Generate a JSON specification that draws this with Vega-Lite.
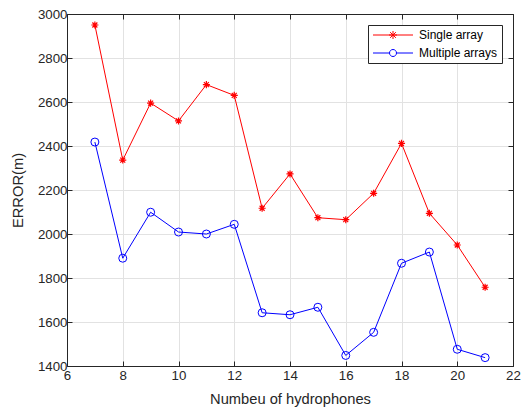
{
  "$schema": "https://vega.github.io/schema/vega-lite/v6.json",
  "width": 446,
  "height": 352,
  "autosize": {"type": "none"},
  "padding": {"left": 67, "top": 14, "right": 8, "bottom": 45},
  "background": "white",
  "config": {
    "font": "Liberation Sans",
    "view": {"stroke": "#262626", "strokeWidth": 1},
    "axis": {
      "domainColor": "#262626",
      "tickColor": "#262626",
      "labelColor": "#262626",
      "titleColor": "#262626",
      "labelFontSize": 13.3,
      "titleFontSize": 14.7,
      "titleFontWeight": "normal",
      "tickSize": -5,
      "gridColor": "#e2e2e2",
      "gridWidth": 1,
      "labelFlush": false,
      "labelOverlap": false,
      "format": "d"
    }
  },
  "data": {
    "values": [
      {"n": 7, "error": 2950, "series": "Single array"},
      {"n": 8, "error": 2336, "series": "Single array"},
      {"n": 9, "error": 2595, "series": "Single array"},
      {"n": 10, "error": 2514, "series": "Single array"},
      {"n": 11, "error": 2679, "series": "Single array"},
      {"n": 12, "error": 2630, "series": "Single array"},
      {"n": 13, "error": 2117, "series": "Single array"},
      {"n": 14, "error": 2273, "series": "Single array"},
      {"n": 15, "error": 2074, "series": "Single array"},
      {"n": 16, "error": 2065, "series": "Single array"},
      {"n": 17, "error": 2185, "series": "Single array"},
      {"n": 18, "error": 2412, "series": "Single array"},
      {"n": 19, "error": 2094, "series": "Single array"},
      {"n": 20, "error": 1950, "series": "Single array"},
      {"n": 21, "error": 1758, "series": "Single array"},
      {"n": 7, "error": 2418, "series": "Multiple arrays"},
      {"n": 8, "error": 1890, "series": "Multiple arrays"},
      {"n": 9, "error": 2099, "series": "Multiple arrays"},
      {"n": 10, "error": 2009, "series": "Multiple arrays"},
      {"n": 11, "error": 2000, "series": "Multiple arrays"},
      {"n": 12, "error": 2044, "series": "Multiple arrays"},
      {"n": 13, "error": 1642, "series": "Multiple arrays"},
      {"n": 14, "error": 1633, "series": "Multiple arrays"},
      {"n": 15, "error": 1667, "series": "Multiple arrays"},
      {"n": 16, "error": 1448, "series": "Multiple arrays"},
      {"n": 17, "error": 1553, "series": "Multiple arrays"},
      {"n": 18, "error": 1867, "series": "Multiple arrays"},
      {"n": 19, "error": 1918, "series": "Multiple arrays"},
      {"n": 20, "error": 1476, "series": "Multiple arrays"},
      {"n": 21, "error": 1438, "series": "Multiple arrays"}
    ]
  },
  "resolve": {"axis": {"x": "independent", "y": "independent"}},
  "layer": [
    {
      "mark": {"type": "line", "strokeWidth": 1, "clip": true},
      "encoding": {
        "x": {
          "field": "n", "type": "quantitative",
          "scale": {"domain": [6, 22], "nice": false, "zero": false},
          "axis": {"orient": "bottom", "values": [6, 8, 10, 12, 14, 16, 18, 20, 22], "title": "Numbeu of hydrophones", "grid": true, "labelPadding": 7, "titlePadding": 10}
        },
        "y": {
          "field": "error", "type": "quantitative",
          "scale": {"domain": [1400, 3000], "nice": false, "zero": false},
          "axis": {"orient": "left", "values": [1400, 1600, 1800, 2000, 2200, 2400, 2600, 2800, 3000], "title": "ERROR(m)", "grid": true, "labelPadding": 5, "titlePadding": 12}
        },
        "color": {
          "field": "series", "type": "nominal",
          "scale": {"domain": ["Single array", "Multiple arrays"], "range": ["#ff0000", "#0000ff"]},
          "legend": {
            "orient": "none",
            "legendX": 301,
            "legendY": 11,
            "title": null,
            "strokeColor": "#262626",
            "fillColor": "white",
            "padding": 4,
            "labelFontSize": 12,
            "labelColor": "#000000",
            "symbolSize": 100,
            "symbolOffset": 15,
            "labelOffset": 20,
            "rowPadding": 6,
            "encode": {
              "symbols": {
                "update": {
                  "shape": {"signal": "datum.value == 'Single array' ? 'M-4,0H4M-0.8,0H0.8M0,-0.8V0.8M-0.57,-0.57L0.57,0.57M-0.57,0.57L0.57,-0.57' : 'M-4,0H-0.7M0.7,0H4M-0.7,0A0.7,0.7 0 1,1 0.7,0A0.7,0.7 0 1,1 -0.7,0'"},
                  "stroke": {"signal": "datum.value == 'Single array' ? '#ff0000' : '#0000ff'"},
                  "fill": {"value": "transparent"},
                  "strokeWidth": {"value": 1},
                  "opacity": {"value": 1}
                }
              }
            }
          }
        }
      }
    },
    {
      "transform": [{"filter": "datum.series == 'Single array'"}],
      "mark": {"type": "point", "filled": false, "strokeWidth": 1.2, "size": 50, "opacity": 1, "shape": "M-1,0H1M0,-1V1M-0.7,-0.7L0.7,0.7M-0.7,0.7L0.7,-0.7"},
      "encoding": {
        "x": {
          "field": "n", "type": "quantitative",
          "axis": {"orient": "top", "values": [6, 8, 10, 12, 14, 16, 18, 20, 22], "labels": false, "title": null, "grid": false}
        },
        "y": {
          "field": "error", "type": "quantitative",
          "axis": {"orient": "right", "values": [1400, 1600, 1800, 2000, 2200, 2400, 2600, 2800, 3000], "labels": false, "title": null, "grid": false}
        },
        "color": {"field": "series", "type": "nominal", "legend": null}
      }
    },
    {
      "transform": [{"filter": "datum.series == 'Multiple arrays'"}],
      "mark": {"type": "point", "filled": false, "strokeWidth": 1, "size": 64, "opacity": 1, "shape": "circle"},
      "encoding": {
        "x": {"field": "n", "type": "quantitative", "axis": null},
        "y": {"field": "error", "type": "quantitative", "axis": null},
        "color": {"field": "series", "type": "nominal", "legend": null}
      }
    }
  ]
}
